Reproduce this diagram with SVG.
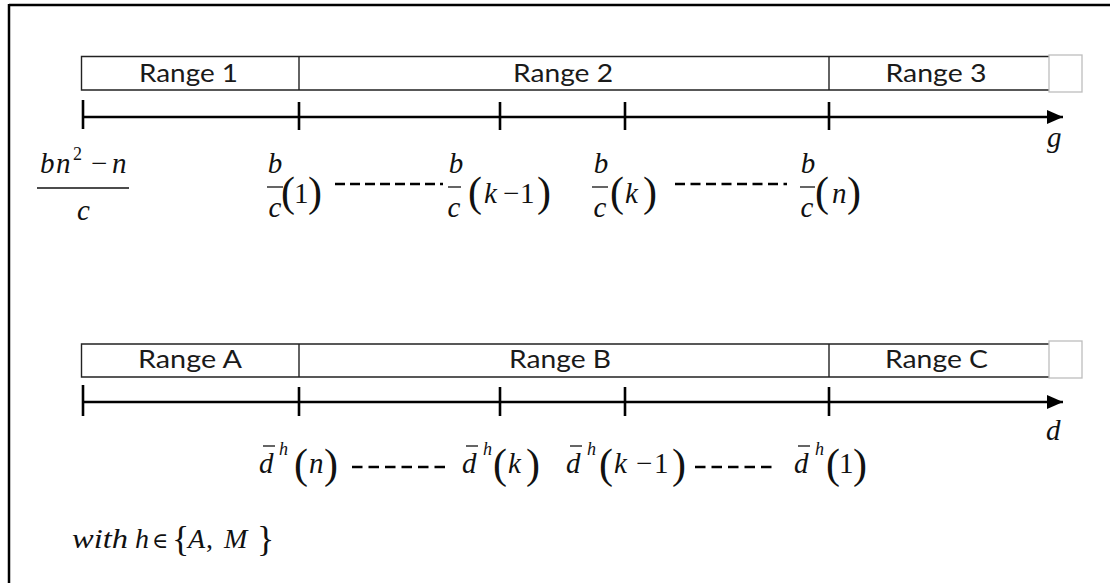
<svg xmlns="http://www.w3.org/2000/svg" width="1110" height="583" viewBox="0 0 1110 583">
<style>
.rng{font-family:Lato,"Open Sans",sans-serif;font-size:25px;fill:#1a1a1a;text-anchor:middle}
.box{fill:none;stroke:#222;stroke-width:1.4}
.gbox{fill:#fff;stroke:#bdbdbd;stroke-width:1.3}
.ax{stroke:#000;stroke-width:2.6;fill:none}
.tk{stroke:#000;stroke-width:2.6}
.m{font-family:"Liberation Serif","Times New Roman",serif;font-size:29px;fill:#111}
.i{font-style:italic}
.p{font-size:42px}
.sup{font-size:18px}
.fl{stroke:#111;stroke-width:1.3}
.dash{stroke:#000;stroke-width:2.6;stroke-dasharray:10 5}
.dash2{stroke:#000;stroke-width:2.6;stroke-dasharray:10.5 6}
</style>
<defs>
<marker id="ah" markerWidth="16" markerHeight="14" refX="16" refY="7" orient="auto" markerUnits="userSpaceOnUse">
<path d="M0,0 L16,7 L0,14 Z" fill="#000"/>
</marker>
</defs>
<rect width="1110" height="583" fill="#fff"/>
<g id="frame">
<line x1="9" y1="5" x2="1110" y2="5" stroke="#000" stroke-width="2.5"/>
<line x1="9" y1="4" x2="9" y2="583" stroke="#000" stroke-width="2.5"/>
</g>

<g id="range1"><path class="box" d="M1049,56.5 H81.5 V90 H1049"/><text class="rng" x="188.5" y="82" textLength="99" lengthAdjust="spacingAndGlyphs">Range 1</text></g>
<g id="range2"><line class="box" x1="299" y1="56.5" x2="299" y2="90"/><text class="rng" x="563" y="82" textLength="100" lengthAdjust="spacingAndGlyphs">Range 2</text></g>
<g id="range3"><line class="box" x1="829" y1="56.5" x2="829" y2="90"/><text class="rng" x="936" y="82" textLength="101" lengthAdjust="spacingAndGlyphs">Range 3</text></g>
<g id="range-end-top"><rect class="gbox" x="1049" y="55" width="33" height="37"/></g>

<g id="rangeA"><path class="box" d="M1049,344 H81.5 V377 H1049"/><text class="rng" x="190" y="368" textLength="104" lengthAdjust="spacingAndGlyphs">Range A</text></g>
<g id="rangeB"><line class="box" x1="299" y1="344" x2="299" y2="377"/><text class="rng" x="560" y="368" textLength="102" lengthAdjust="spacingAndGlyphs">Range B</text></g>
<g id="rangeC"><line class="box" x1="829" y1="344" x2="829" y2="377"/><text class="rng" x="936.5" y="368" textLength="103" lengthAdjust="spacingAndGlyphs">Range C</text></g>
<g id="range-end-bottom"><rect class="gbox" x="1049" y="341" width="33" height="37"/></g>

<g id="connectors">
<line class="ax" x1="83" y1="117" x2="1063" y2="117" marker-end="url(#ah)"/>
<line class="tk" x1="83" y1="100" x2="83" y2="129"/>
<line class="tk" x1="299" y1="102" x2="299" y2="130"/>
<line class="tk" x1="500" y1="102" x2="500" y2="130"/>
<line class="tk" x1="625" y1="102" x2="625" y2="130"/>
<line class="tk" x1="829" y1="102" x2="829" y2="130"/>
<line class="ax" x1="83" y1="402" x2="1063" y2="402" marker-end="url(#ah)"/>
<line class="tk" x1="83" y1="385" x2="83" y2="416"/>
<line class="tk" x1="299" y1="387" x2="299" y2="416"/>
<line class="tk" x1="500" y1="387" x2="500" y2="416"/>
<line class="tk" x1="625" y1="387" x2="625" y2="416"/>
<line class="tk" x1="829" y1="387" x2="829" y2="416"/>
<line class="dash" x1="335" y1="184" x2="443" y2="184"/>
<line class="dash" x1="675" y1="184" x2="787" y2="184" style="stroke-dasharray:10 5.5"/>
<line class="dash2" x1="352" y1="467" x2="449" y2="467"/>
<line class="dash2" x1="695" y1="467" x2="776" y2="467"/>
</g>

<g id="axis-g"><text class="m i" x="1047" y="147">g</text></g>
<g id="axis-d"><text class="m i" x="1046" y="440">d</text></g>

<g id="lbl-start">
<text class="m"><tspan class="i" x="40" y="173">b</tspan><tspan class="i" x="56" y="173">n</tspan><tspan class="sup" x="73" y="160">2</tspan><tspan x="91" y="173">−</tspan><tspan class="i" x="112" y="173">n</tspan></text>
<line class="fl" x1="37" y1="188" x2="129" y2="188"/>
<text class="m i" x="77" y="220">c</text>
</g>
<g id="lbl-b1">
<text class="m i" x="275" y="173" text-anchor="middle">b</text>
<line class="fl" x1="267" y1="187" x2="283" y2="187"/>
<text class="m i" x="275" y="217" text-anchor="middle">c</text>
<text class="m"><tspan class="p" x="281" y="206">(</tspan><tspan x="294" y="203">1</tspan><tspan class="p" x="308" y="206">)</tspan></text>
</g>
<g id="lbl-bk1">
<text class="m i" x="456" y="173" text-anchor="middle">b</text>
<line class="fl" x1="448" y1="187" x2="461" y2="187"/>
<text class="m i" x="454" y="217" text-anchor="middle">c</text>
<text class="m"><tspan class="p" x="468" y="206">(</tspan><tspan class="i" x="484" y="203">k</tspan><tspan x="503" y="203">−</tspan><tspan x="520" y="203">1</tspan><tspan class="p" x="537" y="206">)</tspan></text>
</g>
<g id="lbl-bk">
<text class="m i" x="601" y="173" text-anchor="middle">b</text>
<line class="fl" x1="592" y1="187" x2="608" y2="187"/>
<text class="m i" x="600" y="217" text-anchor="middle">c</text>
<text class="m"><tspan class="p" x="610" y="206">(</tspan><tspan class="i" x="625" y="203">k</tspan><tspan class="p" x="643" y="206">)</tspan></text>
</g>
<g id="lbl-bn">
<text class="m i" x="808" y="173" text-anchor="middle">b</text>
<line class="fl" x1="800" y1="187" x2="815" y2="187"/>
<text class="m i" x="807" y="217" text-anchor="middle">c</text>
<text class="m"><tspan class="p" x="815" y="206">(</tspan><tspan class="i" x="832" y="203">n</tspan><tspan class="p" x="847" y="206">)</tspan></text>
</g>

<g id="lbl-dn">
<text class="m"><tspan class="i" x="259" y="473">d</tspan><tspan class="i sup" x="279" y="455">h</tspan><tspan class="p" x="294" y="478">(</tspan><tspan class="i" x="309" y="473">n</tspan><tspan class="p" x="324" y="478">)</tspan></text>
<line class="fl" x1="263" y1="446" x2="275" y2="446"/>
</g>
<g id="lbl-dk">
<text class="m"><tspan class="i" x="462" y="473">d</tspan><tspan class="i sup" x="483" y="455">h</tspan><tspan class="p" x="493" y="478">(</tspan><tspan class="i" x="508" y="473">k</tspan><tspan class="p" x="526" y="478">)</tspan></text>
<line class="fl" x1="466" y1="446" x2="478" y2="446"/>
</g>
<g id="lbl-dk1">
<text class="m"><tspan class="i" x="566" y="473">d</tspan><tspan class="i sup" x="587" y="455">h</tspan><tspan class="p" x="599" y="478">(</tspan><tspan class="i" x="614" y="473">k</tspan><tspan x="636" y="473">−</tspan><tspan x="654" y="473">1</tspan><tspan class="p" x="672" y="478">)</tspan></text>
<line class="fl" x1="570" y1="446" x2="582" y2="446"/>
</g>
<g id="lbl-d1">
<text class="m"><tspan class="i" x="794" y="473">d</tspan><tspan class="i sup" x="815" y="455">h</tspan><tspan class="p" x="826" y="478">(</tspan><tspan x="839" y="473">1</tspan><tspan class="p" x="853" y="478">)</tspan></text>
<line class="fl" x1="798" y1="446" x2="810" y2="446"/>
</g>

<g id="note">
<text class="m i" x="72" y="548" style="font-size:28px" textLength="56" lengthAdjust="spacingAndGlyphs">with</text>
<text class="m" style="font-size:28px"><tspan class="i" x="135" y="548">h</tspan><tspan style="font-family:'DejaVu Serif',serif;font-size:22px" x="152" y="548">∈</tspan><tspan style="font-size:36px" x="172" y="551">{</tspan><tspan class="i" x="188" y="548">A</tspan><tspan x="206" y="548">,</tspan><tspan class="i" x="224" y="548">M</tspan><tspan style="font-size:36px" x="257" y="551">}</tspan></text>
</g>
</svg>
